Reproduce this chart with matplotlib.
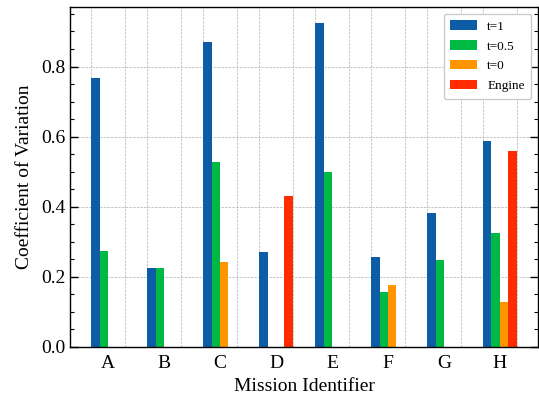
import matplotlib
matplotlib.use("Agg")
import matplotlib.pyplot as plt
import numpy as np

missions = ["A", "B", "C", "D", "E", "F", "G", "H"]
nan = np.nan
cv_t1 = [0.767, 0.225, 0.870, 0.270, 0.923, 0.257, 0.382, 0.589]
cv_t05 = [0.273, 0.226, 0.527, nan, 0.500, 0.158, 0.248, 0.325]
cv_t0 = [nan, nan, 0.243, nan, nan, 0.176, nan, 0.129]
cv_engine = [nan, nan, nan, 0.430, nan, nan, nan, 0.558]

series = [("t=1", cv_t1, "#0C5DA5"),
          ("t=0.5", cv_t05, "#00B945"),
          ("t=0", cv_t0, "#FF9500"),
          ("Engine", cv_engine, "#FF2C00")]

plt.rcParams["font.family"] = ["Liberation Serif", "DejaVu Serif"]

fig = plt.figure(figsize=(5.39, 4.03), dpi=100)
ax = fig.add_axes([0.130, 0.139, 0.868, 0.843])

x = np.arange(len(missions))
group_w = 0.6
w = group_w / len(series)
for k, (name, vals, col) in enumerate(series):
    ax.bar(x - group_w / 2 + (k + 0.5) * w, vals, w, color=col, label=name)

ax.set_xticks(x)
ax.set_xticklabels(missions)
ax.set_xticks(np.concatenate([x - group_w / 2, x + group_w / 2]), minor=True)
ax.tick_params(axis="x", which="both", length=0, labelsize=14, pad=6)

ax.set_yticks(np.arange(0, 0.81, 0.2))
ax.set_yticks(np.arange(0, 0.96, 0.05), minor=True)
ax.tick_params(axis="y", which="both", direction="in", left=True, right=True, labelsize=14)
ax.tick_params(axis="y", which="major", length=6, width=1)
ax.tick_params(axis="y", which="minor", length=3, width=0.8)

ax.grid(axis="x", which="minor", linestyle="--", color="#b0b0b0", linewidth=0.5)
ax.grid(axis="y", which="major", linestyle="--", color="#b0b0b0", linewidth=0.5)
ax.set_axisbelow(True)

for s in ax.spines.values():
    s.set_linewidth(1.0)

ax.set_xlabel("Mission Identifier", fontsize=14, labelpad=4)
ax.set_ylabel("Coefficient of Variation", fontsize=14, labelpad=6)

ax.legend(loc="upper right", fontsize=9.5, handlelength=2.0, handleheight=0.75,
          handletextpad=0.8, frameon=True, fancybox=True, edgecolor="#cccccc",
          framealpha=1.0, borderpad=0.5, labelspacing=0.55, borderaxespad=0.5)

fig.savefig("out.png", dpi=100)
